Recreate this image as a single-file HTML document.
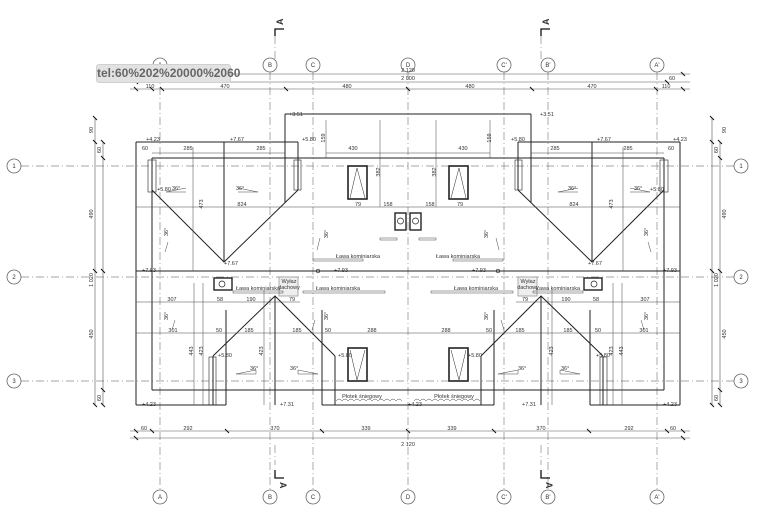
<!DOCTYPE html>
<html><head><meta charset="utf-8"><style>
html,body{margin:0;padding:0;background:#fff;width:767px;height:525px;overflow:hidden}
svg{display:block}
text{font-family:"Liberation Sans",sans-serif;fill:#333}
.tip{position:absolute;left:96px;top:64px;width:135px;height:19px;background:#e2e2e2;border:1px solid #d0d0d0;box-sizing:border-box;border-radius:3px;font:bold 12px "Liberation Sans",sans-serif;color:#666;line-height:17px;text-align:center}
</style></head><body>
<svg width="767" height="525" viewBox="0 0 767 525">
<g stroke="#888" stroke-width="0.7" stroke-dasharray="8,3,1,3" fill="none">
<line x1="160" y1="72" x2="160" y2="490"/><line x1="270" y1="72" x2="270" y2="490"/><line x1="313" y1="72" x2="313" y2="490"/><line x1="408" y1="72" x2="408" y2="490"/>
<line x1="504" y1="72" x2="504" y2="490"/><line x1="548" y1="72" x2="548" y2="490"/><line x1="657" y1="72" x2="657" y2="490"/>
<line x1="21" y1="166" x2="734" y2="166"/><line x1="21" y1="277" x2="734" y2="277"/><line x1="21" y1="381" x2="734" y2="381"/>
<line x1="275" y1="36" x2="275" y2="60"/><line x1="541" y1="36" x2="541" y2="60"/><line x1="275" y1="445" x2="275" y2="465"/><line x1="541" y1="445" x2="541" y2="465"/>
</g>
<g stroke="#666" stroke-width="0.8" fill="#fff">
<circle cx="160" cy="65" r="7"/><circle cx="270" cy="65" r="7"/><circle cx="313" cy="65" r="7"/><circle cx="408" cy="65" r="7"/><circle cx="504" cy="65" r="7"/><circle cx="548" cy="65" r="7"/><circle cx="657" cy="65" r="7"/>
<circle cx="160" cy="497" r="7"/><circle cx="270" cy="497" r="7"/><circle cx="313" cy="497" r="7"/><circle cx="408" cy="497" r="7"/><circle cx="504" cy="497" r="7"/><circle cx="548" cy="497" r="7"/><circle cx="657" cy="497" r="7"/>
<circle cx="14" cy="166" r="7"/><circle cx="14" cy="277" r="7"/><circle cx="14" cy="381" r="7"/>
<circle cx="741" cy="166" r="7"/><circle cx="741" cy="277" r="7"/><circle cx="741" cy="381" r="7"/>
</g>
<g font-size="6" text-anchor="middle">
<text x="160" y="67">A</text><text x="270" y="67">B</text><text x="313" y="67">C</text><text x="408" y="67">D</text><text x="504" y="67">C'</text><text x="548" y="67">B'</text><text x="657" y="67">A'</text>
<text x="160" y="499">A</text><text x="270" y="499">B</text><text x="313" y="499">C</text><text x="408" y="499">D</text><text x="504" y="499">C'</text><text x="548" y="499">B'</text><text x="657" y="499">A'</text>
<text x="14" y="168">1</text><text x="14" y="279">2</text><text x="14" y="383">3</text><text x="741" y="168">1</text><text x="741" y="279">2</text><text x="741" y="383">3</text>
</g>
<g stroke="#111" stroke-width="1.3" fill="none">
<polyline points="275,36 275,29 284,29"/><polyline points="541,36 541,29 550,29"/>
<polyline points="275,470 275,478 284,478"/><polyline points="541,470 541,478 550,478"/>
</g>
<g font-size="9" font-weight="bold" fill="#111">
<text transform="translate(283,25) rotate(-90)">A</text><text transform="translate(549,25) rotate(-90)">A</text>
<text transform="translate(280,482) rotate(90)">A</text><text transform="translate(546,482) rotate(90)">A</text>
</g>
<g stroke="#555" stroke-width="0.6" fill="none">
<line x1="130" y1="74" x2="690" y2="74"/><line x1="130" y1="82" x2="690" y2="82"/><line x1="130" y1="89" x2="690" y2="89"/>
<line x1="130" y1="431" x2="690" y2="431"/><line x1="130" y1="438" x2="690" y2="438"/>
<line x1="95" y1="118" x2="95" y2="405"/><line x1="103" y1="142" x2="103" y2="405"/>
<line x1="712" y1="118" x2="712" y2="405"/><line x1="720" y1="142" x2="720" y2="405"/>
</g>
<g stroke="#111" stroke-width="1">
<path d="M134,72l4,4M134,80l4,4M134,87l4,4M150,87l4,4M160,87l4,4M284,87l4,4M406,87l4,4M530,87l4,4M654,87l4,4M665,80l4,4M681,72l4,4M681,87l4,4"/>
<path d="M134,429l4,4M150,429l4,4M225,429l4,4M320,429l4,4M406,429l4,4M492,429l4,4M587,429l4,4M665,429l4,4M681,429l4,4M134,436l4,4M681,436l4,4"/>
<path d="M93,116l4,4M93,140l4,4M93,269l4,4M93,403l4,4M101,140l4,4M101,156l4,4M101,269l4,4M101,388l4,4M101,403l4,4"/>
<path d="M710,116l4,4M710,140l4,4M710,269l4,4M710,403l4,4M718,140l4,4M718,156l4,4M718,269l4,4M718,388l4,4M718,403l4,4"/>
</g>
<g id="half" stroke="#222" stroke-width="1" fill="none">
<line x1="136" y1="142" x2="136" y2="405"/>
<line x1="152" y1="158" x2="152" y2="390"/>
<line x1="136" y1="142" x2="298" y2="142"/>
<line x1="285" y1="114" x2="408" y2="114"/>
<line x1="285" y1="114" x2="285" y2="202"/>
<line x1="298" y1="142" x2="298" y2="190"/>
<line x1="152" y1="158" x2="408" y2="158"/>
<line x1="136" y1="271" x2="408" y2="271"/>
<line x1="152" y1="390" x2="408" y2="390"/>
<line x1="136" y1="405" x2="226" y2="405"/><line x1="322" y1="405" x2="408" y2="405"/>
<line x1="224" y1="142" x2="224" y2="262"/>
<polyline points="152,190 224,262 298,190"/>
<polyline points="213,356 275,296 335,356"/>
<line x1="275" y1="296" x2="275" y2="405"/>
<line x1="213" y1="356" x2="213" y2="405"/><line x1="335" y1="356" x2="335" y2="405"/>
<line x1="226" y1="310" x2="226" y2="405"/><line x1="322" y1="310" x2="322" y2="405"/>
<rect x="148" y="160" width="8" height="32" stroke-width="0.6"/>
<rect x="294" y="160" width="7" height="30" stroke-width="0.6"/>
<rect x="209" y="357" width="7" height="48" stroke-width="0.6"/>
<rect x="348" y="166" width="19" height="33" stroke-width="1.6"/>
<rect x="348" y="348" width="19" height="33" stroke-width="1.6"/>
<polyline points="350,198 357,168 365,198" stroke-width="0.5"/>
<polyline points="350,350 357,380 365,350" stroke-width="0.5"/>
<rect x="395" y="213" width="11" height="17" stroke-width="1.4"/><circle cx="400.5" cy="221" r="3" stroke-width="0.7"/>
<rect x="214" y="278" width="18" height="12" stroke-width="1.4"/><circle cx="222" cy="284" r="3" stroke-width="0.7"/>
<rect x="279" y="277" width="19" height="19" stroke="#999" fill="#eee" stroke-width="0.8"/>
<g stroke-width="0.5" stroke="#444">
<line x1="152" y1="153" x2="285" y2="153"/><line x1="326" y1="153" x2="408" y2="153"/>
<line x1="136" y1="207" x2="408" y2="207"/>
<line x1="136" y1="302" x2="300" y2="302"/><line x1="136" y1="333" x2="408" y2="333"/>
<rect x="380" y="238" width="17" height="2"/><rect x="313" y="259" width="50" height="2"/>
<rect x="233" y="291" width="50" height="2"/><rect x="303" y="291" width="82" height="2"/>
<line x1="193" y1="147" x2="193" y2="271"/><line x1="203" y1="283" x2="203" y2="405"/><line x1="194" y1="283" x2="194" y2="405"/>
<line x1="264" y1="290" x2="264" y2="405"/><line x1="326" y1="120" x2="326" y2="158"/><line x1="380" y1="120" x2="380" y2="207"/>
<path d="M186,188l-20,4h20M238,188l20,4h-20M236,374l20,-4v4zM318,374l-20,-4v4z"/>
<path d="M168,242l-3,10M320,238l-3,12M175,320l-3,10M315,320l-3,10"/>
<path d="M336,401q3,-4 6,0q3,-4 6,0q3,-4 6,0q3,-4 6,0q3,-4 6,0q3,-4 6,0q3,-4 6,0q3,-4 6,0q3,-4 6,0q3,-4 6,0q3,-4 6,0"/>
</g>
<circle cx="318" cy="271" r="1.8" stroke-width="0.7"/>
</g>
<use href="#half" transform="translate(816,0) scale(-1,1)"/>
<g font-size="5.5" text-anchor="middle">
<text x="408" y="72">2 120</text><text x="408" y="80">2 000</text><text x="145" y="80">60</text><text x="672" y="80">60</text>
<text x="150" y="88">110</text><text x="225" y="88">470</text><text x="347" y="88">480</text><text x="470" y="88">480</text><text x="592" y="88">470</text><text x="666" y="88">110</text>
<text x="144" y="430">60</text><text x="188" y="430">292</text><text x="275" y="430">370</text><text x="366" y="430">339</text><text x="452" y="430">339</text><text x="541" y="430">370</text><text x="629" y="430">292</text><text x="673" y="430">60</text>
<text x="408" y="446">2 120</text>
<text x="145" y="150">60</text><text x="188" y="150">285</text><text x="261" y="150">285</text><text x="353" y="150">430</text><text x="463" y="150">430</text><text x="555" y="150">285</text><text x="628" y="150">285</text><text x="671" y="150">60</text>
<text x="242" y="206">824</text><text x="574" y="206">824</text><text x="358" y="206">79</text><text x="388" y="206">158</text><text x="430" y="206">158</text><text x="460" y="206">79</text>
<text x="358" y="258">Ława kominiarska</text><text x="458" y="258">Ława kominiarska</text>
<text x="258" y="290">Ława kominiarska</text><text x="338" y="290">Ława kominiarska</text><text x="476" y="290">Ława kominiarska</text><text x="558" y="290">Ława kominiarska</text>
<text x="289" y="283">Wyłaz</text><text x="289" y="289">dachowy</text><text x="528" y="283">Wyłaz</text><text x="528" y="289">dachowy</text>
<text x="172" y="301">307</text><text x="220" y="301">58</text><text x="251" y="301">190</text><text x="292" y="301">79</text>
<text x="645" y="301">307</text><text x="596" y="301">58</text><text x="566" y="301">190</text><text x="525" y="301">79</text>
<text x="173" y="332">301</text><text x="219" y="332">50</text><text x="249" y="332">185</text><text x="297" y="332">185</text><text x="328" y="332">50</text><text x="372" y="332">288</text>
<text x="644" y="332">301</text><text x="598" y="332">50</text><text x="568" y="332">185</text><text x="520" y="332">185</text><text x="489" y="332">50</text><text x="446" y="332">288</text>
<text x="362" y="398">Płotek śniegowy</text><text x="454" y="398">Płotek śniegowy</text>
</g>
<g font-size="5.5">
<text x="146" y="141">+4.23</text><text x="230" y="141">+7.67</text><text x="302" y="141">+5.80</text><text x="289" y="116">+3.51</text>
<text x="540" y="116">+3.51</text><text x="511" y="141">+5.80</text><text x="597" y="141">+7.67</text><text x="673" y="141">+4.23</text>
<text x="157" y="191">+5.80</text><text x="224" y="265">+7.67</text><text x="650" y="191">+5.80</text><text x="588" y="265">+7.67</text>
<text x="142" y="272">+7.93</text><text x="334" y="272">+7.93</text><text x="472" y="272">+7.93</text><text x="663" y="272">+7.93</text>
<text x="218" y="357">+5.80</text><text x="338" y="357">+5.80</text><text x="468" y="357">+5.80</text><text x="596" y="357">+5.80</text>
<text x="142" y="406">+4.23</text><text x="280" y="406">+7.31</text><text x="408" y="406">+4.23</text><text x="522" y="406">+7.31</text><text x="663" y="406">+4.23</text>
<text x="172" y="190">36°</text><text x="236" y="190">36°</text><text x="568" y="190">36°</text><text x="634" y="190">36°</text>
<text x="250" y="370">36°</text><text x="290" y="370">36°</text><text x="518" y="370">36°</text><text x="561" y="370">36°</text>
</g>
<g font-size="5.5" text-anchor="middle">
<text transform="translate(93,130) rotate(-90)">90</text><text transform="translate(93,214) rotate(-90)">490</text><text transform="translate(93,280) rotate(-90)">1 020</text><text transform="translate(93,334) rotate(-90)">450</text><text transform="translate(101,150) rotate(-90)">60</text><text transform="translate(101,398) rotate(-90)">60</text>
<text transform="translate(726,130) rotate(-90)">90</text><text transform="translate(726,214) rotate(-90)">490</text><text transform="translate(718,280) rotate(-90)">1 020</text><text transform="translate(726,334) rotate(-90)">450</text><text transform="translate(718,150) rotate(-90)">60</text><text transform="translate(718,398) rotate(-90)">60</text>
<text transform="translate(203,204) rotate(-90)">473</text><text transform="translate(613,204) rotate(-90)">473</text>
<text transform="translate(325,138) rotate(-90)">159</text><text transform="translate(491,138) rotate(-90)">159</text>
<text transform="translate(380,172) rotate(-90)">382</text><text transform="translate(436,172) rotate(-90)">382</text>
<text transform="translate(193,351) rotate(-90)">443</text><text transform="translate(203,351) rotate(-90)">423</text><text transform="translate(263,351) rotate(-90)">423</text>
<text transform="translate(623,351) rotate(-90)">443</text><text transform="translate(613,351) rotate(-90)">423</text><text transform="translate(553,351) rotate(-90)">423</text>
<text transform="translate(168,232) rotate(-90)">36°</text><text transform="translate(328,234) rotate(-90)">36°</text><text transform="translate(488,234) rotate(-90)">36°</text><text transform="translate(648,232) rotate(-90)">36°</text>
<text transform="translate(168,316) rotate(-90)">36°</text><text transform="translate(328,316) rotate(-90)">36°</text><text transform="translate(488,316) rotate(-90)">36°</text><text transform="translate(648,316) rotate(-90)">36°</text>
</g>
</svg>
<div class="tip">tel:60%202%20000%2060</div>
</body></html>
